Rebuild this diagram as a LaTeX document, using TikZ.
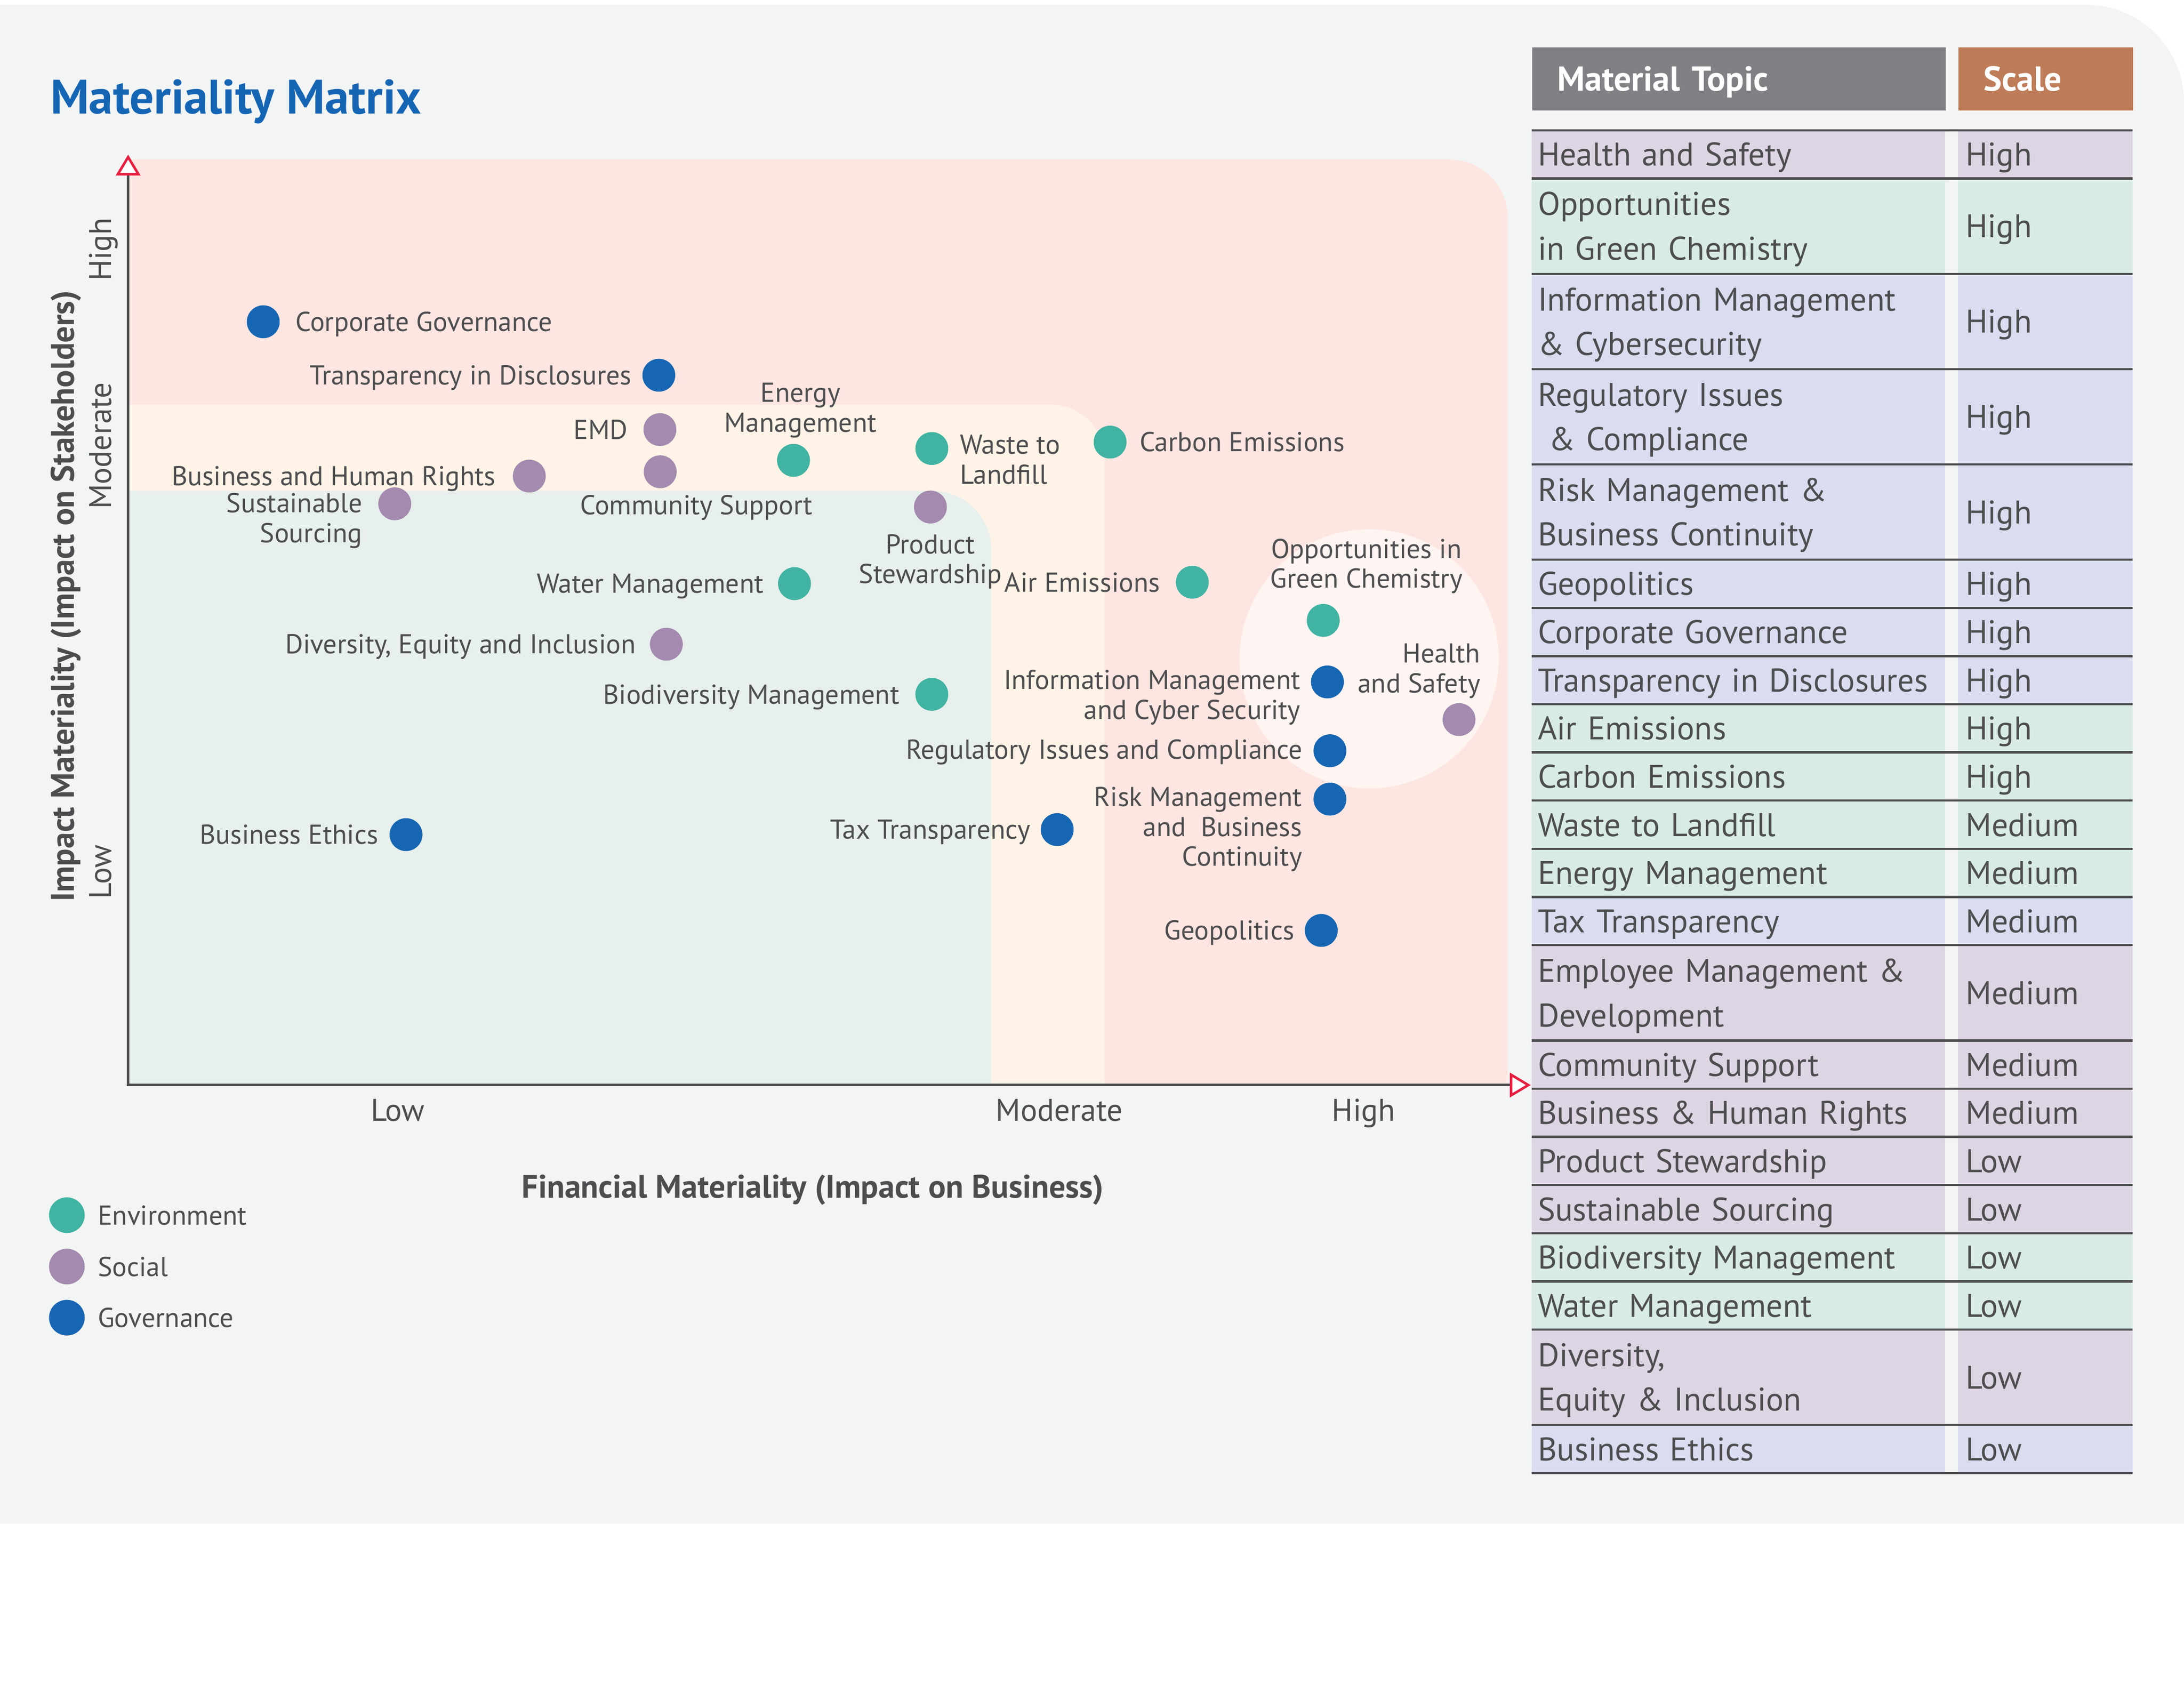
\documentclass[tikz,border=0pt]{standalone}
\usepackage{fontspec}
\setmainfont{PT Sans}
\usetikzlibrary{arrows.meta, positioning, calc}

\definecolor{envcol}{HTML}{40B3A2}
\definecolor{soccol}{HTML}{A38AAE}
\definecolor{govcol}{HTML}{1766B3}
\definecolor{inkgray}{HTML}{4D4D4F}
\definecolor{titleblue}{HTML}{1565B5}
\definecolor{pagegray}{HTML}{F3F5F4}
\definecolor{zonehigh}{HTML}{FDE6E1}
\definecolor{zonemid}{HTML}{FEF3E6}
\definecolor{zonelow}{HTML}{E7F0EC}
\definecolor{hilite}{HTML}{FEF4F1}
\definecolor{arrowred}{HTML}{E91E3F}
\definecolor{headgray}{HTML}{808185}
\definecolor{headorange}{HTML}{BE7C58}
\definecolor{rowsoc}{HTML}{DDD5E3}
\definecolor{rowenv}{HTML}{D8EBE6}
\definecolor{rowgov}{HTML}{D9DDEF}

\begin{document}
\begin{tikzpicture}[
    x=1pt, y=-1pt,
    >={Triangle[length=15pt, width=17.5pt, color=arrowred, fill=white]},
    dot/.style={circle, inner sep=0pt, minimum size=23.6pt},
    envdot/.style={dot, fill=envcol},
    socdot/.style={dot, fill=soccol},
    govdot/.style={dot, fill=govcol},
    lbl/.style={inner sep=0pt, text=inkgray, text height=13.7pt, text depth=0pt, font=\fontsize{19.6}{21.5}\selectfont},
    tick/.style={lbl, text height=15.7pt, font=\fontsize{22.5}{24}\selectfont},
    axistitle/.style={lbl, text height=16.4pt, font=\bfseries\fontsize{23.4}{26}\selectfont},
    headcell/.style={inner xsep=18pt, inner ysep=0pt, outer sep=0pt, minimum height=45.6pt, align=left, text=white, text height=17.4pt, text depth=0pt, font=\bfseries\fontsize{24.8}{27}\selectfont},
    topiccell/.style={inner xsep=4.6pt, inner ysep=0pt, outer sep=0pt, text width=287.8pt, align=left, text=inkgray, text height=16.45pt, font=\fontsize{23.5}{32}\selectfont},
    scalecell/.style={topiccell, inner xsep=5.7pt, text width=114.2pt},
    rowrule/.style={draw=inkgray, line width=1.6pt},
    axisline/.style={draw=inkgray, line width=1.8pt, <->}
]
    \useasboundingbox (0,0) rectangle (1568,1209.4);
    \fill[white] (0,0) rectangle (1568,1209.4);
    \fill[pagegray] (0,1094) -- (0,3.5) -- (1498,3.5) arc[start angle=-90, end angle=0, radius=70] -- (1568,1094) -- cycle;

    % Zones
    \fill[zonehigh] (92,779) -- (92,114.5) -- (1040.5,114.5) arc[start angle=-90, end angle=0, radius=42] -- (1082.5,779) -- cycle;
    \fill[zonemid] (92,779) -- (92,290.7) -- (755,290.7) arc[start angle=-90, end angle=0, radius=38] -- (793,779) -- cycle;
    \fill[zonelow] (92,779) -- (92,352.5) -- (669.6,352.5) arc[start angle=-90, end angle=0, radius=42] -- (711.6,779) -- cycle;
    \fill[hilite] (983,473) circle[radius=93];

    % Axes
    \coordinate (origin) at (92,779);
    \coordinate (ytip) at (92,111);
    \coordinate (xtip) at (1099,779);
    \draw[axisline] (ytip) -- (origin) -- (xtip);

    % Title and axis labels
    \node[lbl, anchor=west, text=titleblue, text height=24.3pt, font=\bfseries\fontsize{34.7}{38}\selectfont] (title) at (36,69.5) {Materiality Matrix};
    \node[axistitle, rotate=90] (ytitle) at (45,428) {Impact Materiality (Impact on Stakeholders)};
    \node[axistitle] (xtitle) at (583.5,852) {Financial Materiality (Impact on Business)};
    \node[tick, rotate=90] (yhigh) at (72,179) {High};
    \node[tick, rotate=90] (ymod) at (72,320) {Moderate};
    \node[tick, rotate=90] (ylow) at (72,626) {Low};
    \node[tick] (xlow) at (285.5,797) {Low};
    \node[tick] (xmod) at (760.5,797) {Moderate};
    \node[tick] (xhigh) at (979,797) {High};

    % Topics
    \node[govdot] (corpgov) at (189,231) {};
    \node[govdot] (transp) at (473,269.4) {};
    \node[socdot] (emd) at (473.8,308.4) {};
    \node[socdot] (commsup) at (474,338.7) {};
    \node[socdot] (humrights) at (380,341.8) {};
    \node[socdot] (sourcing) at (283.4,361.7) {};
    \node[envdot] (energy) at (569.7,330.5) {};
    \node[envdot] (waste) at (669,322) {};
    \node[envdot] (carbon) at (797,317.4) {};
    \node[socdot] (product) at (668,364) {};
    \node[envdot] (water) at (570.4,419) {};
    \node[envdot] (air) at (856,418) {};
    \node[envdot] (greenchem) at (950,445.4) {};
    \node[socdot] (health) at (1047.5,516.6) {};
    \node[govdot] (infosec) at (953,489.6) {};
    \node[govdot] (regulatory) at (954.8,539) {};
    \node[govdot] (risk) at (954.8,573.7) {};
    \node[govdot] (tax) at (759,595.6) {};
    \node[govdot] (geopol) at (948.6,668) {};
    \node[envdot] (biodiv) at (669,498.5) {};
    \node[socdot] (diversity) at (478.4,462.5) {};
    \node[govdot] (ethics) at (291.5,599.2) {};

    % Topic labels
    \node[lbl, right=11pt of corpgov] (corpgovlbl) {Corporate Governance};
    \node[lbl, left=7.4pt of transp] (transplbl) {Transparency in Disclosures};
    \node[lbl, left=11pt of emd] (emdlbl) {EMD};
    \node[lbl, below=5pt of commsup, xshift=26pt] (commsuplbl) {Community Support};
    \node[lbl, left=12pt of humrights] (humrightslbl) {Business and Human Rights};
    \node[lbl, align=right, left=11pt of sourcing, yshift=-20.8pt] (sourcinglbl) {Sustainable\\Sourcing};
    \node[lbl, align=center, above=8pt of energy, xshift=5pt] (energylbl) {Energy\\Management};
    \node[lbl, align=left, right=8pt of waste, yshift=-18.5pt] (wastelbl) {Waste to\\Landfill};
    \node[lbl, right=9pt of carbon] (carbonlbl) {Carbon Emissions};
    \node[lbl, align=center, below=29pt of product] (productlbl) {Product\\Stewardship};
    \node[lbl, left=10pt of water] (waterlbl) {Water Management};
    \node[lbl, left=11pt of air] (airlbl) {Air Emissions};
    \node[lbl, align=center, above=11pt of greenchem, xshift=31pt] (greenchemlbl) {Opportunities in\\Green Chemistry};
    \node[lbl, align=right, anchor=south east] (healthlbl) at ([xshift=15.5pt, yshift=7.2pt]health.north) {Health\\and Safety};
    \node[lbl, align=right, left=7.2pt of infosec, yshift=-19.9pt] (infoseclbl) {Information Management\\and Cyber Security};
    \node[lbl, left=7.4pt of regulatory, yshift=1pt] (regulatorylbl) {Regulatory Issues and Compliance};
    \node[lbl, align=right, left=7.8pt of risk, yshift=-41.3pt] (risklbl) {Risk Management\\and~~Business\\Continuity};
    \node[lbl, left=7.2pt of tax] (taxlbl) {Tax Transparency};
    \node[lbl, left=7.2pt of geopol] (geopollbl) {Geopolitics};
    \node[lbl, left=11pt of biodiv] (biodivlbl) {Biodiversity Management};
    \node[lbl, left=9.6pt of diversity] (diversitylbl) {Diversity, Equity and Inclusion};
    \node[lbl, left=7.7pt of ethics] (ethicslbl) {Business Ethics};

    % Legend
    \node[envdot, minimum size=25.6pt] (legenv) at (48,872.4) {};
    \node[socdot, minimum size=25.6pt] (legsoc) at (48,909.3) {};
    \node[govdot, minimum size=25.6pt] (leggov) at (48,946) {};
    \node[lbl, right=9pt of legenv] (legenvlbl) {Environment};
    \node[lbl, right=9pt of legsoc] (legsoclbl) {Social};
    \node[lbl, right=9pt of leggov] (leggovlbl) {Governance};

    % Table
    \node[headcell, fill=headgray, text width=261pt, anchor=north west] (headtopic) at (1100,33.9) {Material Topic};
    \node[headcell, fill=headorange, text width=89.6pt, right=9pt of headtopic] (headscale) {Scale};
    \node[inner sep=0pt, outer sep=0pt] (topic0) at (1100,93.1) {};
    \foreach \topic/\scale/\tone/\rowh/\rowd [count=\i] in {
        Health and Safety/High/rowsoc/34.6/0,
        {Opportunities\\in Green Chemistry}/High/rowenv/68.4/32,
        {Information Management\\\& Cybersecurity}/High/rowgov/68.4/32,
        {Regulatory Issues\\~\& Compliance}/High/rowgov/68.4/32,
        {Risk Management \&\\Business Continuity}/High/rowgov/68.4/32,
        Geopolitics/High/rowgov/34.6/0,
        Corporate Governance/High/rowgov/34.6/0,
        Transparency in Disclosures/High/rowgov/34.6/0,
        Air Emissions/High/rowenv/34.6/0,
        Carbon Emissions/High/rowenv/34.6/0,
        Waste to Landfill/Medium/rowenv/34.6/0,
        Energy Management/Medium/rowenv/34.6/0,
        Tax Transparency/Medium/rowgov/34.6/0,
        {Employee Management \&\\Development}/Medium/rowsoc/68.4/32,
        Community Support/Medium/rowsoc/34.6/0,
        Business \& Human Rights/Medium/rowsoc/34.6/0,
        Product Stewardship/Low/rowsoc/34.6/0,
        Sustainable Sourcing/Low/rowsoc/34.6/0,
        Biodiversity Management/Low/rowenv/34.6/0,
        Water Management/Low/rowenv/34.6/0,
        {Diversity,\\Equity \& Inclusion}/Low/rowsoc/68.4/32,
        Business Ethics/Low/rowgov/34.6/0}
    {
        \pgfmathtruncatemacro{\j}{\i-1}
        \node[topiccell, fill=\tone, minimum height=\rowh pt, text depth=\rowd pt, anchor=north west] (topic\i) at (topic\j.south west) {\topic};
        \node[scalecell, fill=\tone, minimum height=\rowh pt, text depth=0pt, right=9pt of topic\i] (scale\i) {\scale};
        \draw[rowrule] (topic\i.north west) -- (scale\i.north east);
    }
    \draw[rowrule] (topic22.south west) -- (scale22.south east);
\end{tikzpicture}
\end{document}
